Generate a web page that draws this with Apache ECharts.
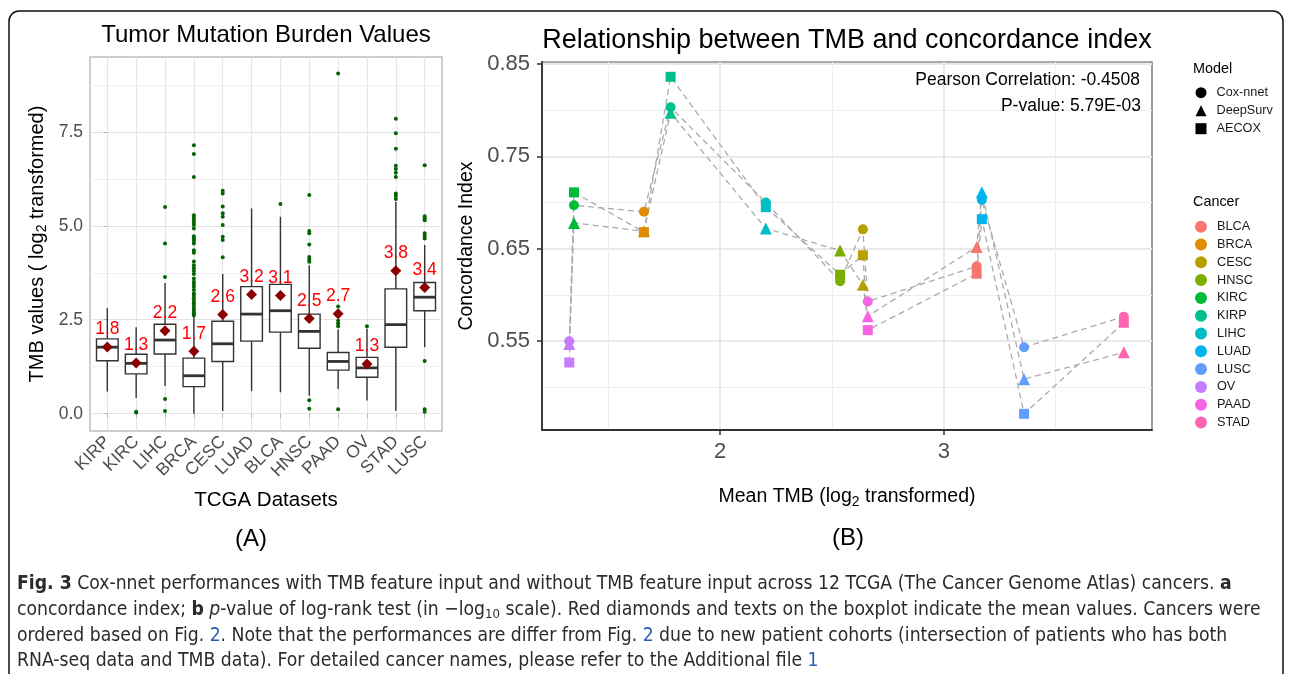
<!DOCTYPE html>
<html>
<head>
<meta charset="utf-8">
<script src="https://cdn.jsdelivr.net/npm/echarts@6/dist/echarts.min.js"></script>
<style>
html, body { margin: 0; padding: 0; background: #fff; }
#main { width: 1292px; height: 674px; }
</style>
</head>
<body>
<div id="main"></div>
<script>
// ---------- panel A : TMB boxplots (order as in the figure) ----------
var cats    = ['KIRP','KIRC','LIHC','BRCA','CESC','LUAD','BLCA','HNSC','PAAD','OV','STAD','LUSC'];
var boxMin  = [0.59, 0.42, 0.74, 0.00, 0.07, 0.60, 0.57, 0.48, 0.66, 0.35, 0.08, 1.77];
var boxQ1   = [1.41, 1.06, 1.59, 0.72, 1.39, 1.93, 2.17, 1.74, 1.16, 0.97, 1.77, 2.74];
var boxMed  = [1.77, 1.34, 1.96, 1.01, 1.86, 2.65, 2.74, 2.19, 1.39, 1.22, 2.37, 3.10];
var boxQ3   = [1.99, 1.58, 2.38, 1.48, 2.46, 3.38, 3.44, 2.65, 1.63, 1.50, 3.32, 3.49];
var boxMax  = [2.81, 2.30, 3.48, 2.60, 3.72, 5.46, 5.24, 3.95, 2.24, 2.26, 5.64, 4.49];
var meanTmb = [1.778, 1.346, 2.204, 1.659, 2.638, 3.170, 3.147, 2.536, 2.660, 1.325, 3.805, 3.359];
var outliers = [
  [],
  [0.05, 0.03],
  [0.39, 0.07, 3.64, 4.53, 5.50],
  [2.62, 2.67, 2.74, 2.80, 2.87, 2.94, 3.00, 3.07, 3.14, 3.20, 3.29, 3.38, 3.45, 3.51, 3.60,
   3.72, 3.80, 3.87, 3.95, 4.05, 4.28, 4.35, 4.53, 4.60, 4.66, 4.72, 4.93, 5.02, 5.08, 5.15,
   5.22, 5.28, 6.30, 6.91, 7.14],
  [4.16, 4.62, 4.71, 5.02, 5.24, 5.33, 5.51, 5.86, 5.93],
  [],
  [5.58],
  [0.36, 0.13, 4.04, 4.10, 4.17, 4.50, 4.80, 4.86, 5.82],
  [0.12, 2.33, 2.40, 2.47, 2.85, 9.05],
  [2.33],
  [5.71, 5.79, 5.86, 6.30, 6.41, 6.51, 6.60, 7.05, 7.46, 7.85],
  [0.05, 0.12, 1.40, 4.66, 4.73, 4.80, 5.15, 5.20, 5.25, 6.61]
];
var tmbTicks = [0, 2.5, 5, 7.5];
var tmbMinor = [1.25, 3.75, 6.25, 8.75];

// ---------- panel B : concordance index vs mean TMB ----------
var cancers = ['BLCA','BRCA','CESC','HNSC','KIRC','KIRP','LIHC','LUAD','LUSC','OV','PAAD','STAD'];
var cancerColors = ['#F8766D','#DE8C00','#B79F00','#7CAE00','#00BA38','#00C08B',
                    '#00BFC4','#00B4F0','#619CFF','#C77CFF','#F564E3','#FF64B0'];
var models = ['Cox-nnet', 'DeepSurv', 'AECOX'];
var modelShapes = ['circle', 'triangle', 'rect'];
var modelSizes = [10, 12, 10];
var cindexCoxnnet  = [0.631, 0.690, 0.671, 0.615, 0.697, 0.803, 0.700, 0.703, 0.5435, 0.550, 0.593, 0.5766];
var cindexDeepsurv = [0.652, 0.669, 0.611, 0.648, 0.678, 0.797, 0.672, 0.711, 0.509, 0.547, 0.577, 0.538];
var cindexAecox    = [0.623, 0.668, 0.643, 0.622, 0.711, 0.836, 0.695, 0.682, 0.4715, 0.527, 0.562, 0.570];
var cindexTicks = [0.55, 0.65, 0.75, 0.85];
var cindexMinor = [0.5, 0.6, 0.7, 0.8];
var tmbMeanTicks = [2, 3];
var tmbMeanMinor = [1.5, 2.5, 3.5];

var FONT = '"Liberation Sans", Arial, Helvetica, sans-serif';
var CAPFONT = '"DejaVu Sans Condensed", "Liberation Sans Narrow", sans-serif';

var capLines = [
  '{b|Fig. 3}{t| Cox-nnet performances with TMB feature input and without TMB feature input across 12 TCGA (The Cancer Genome Atlas) cancers. }{b|a}',
  '{t|concordance index; }{b|b}{t| }{i|p}{t|-value of log-rank test (in \u2212log}{s|10}{t| scale). Red diamonds and texts on the boxplot indicate the mean values. Cancers were}',
  '{t|ordered based on Fig. }{l|2}{t|. Note that the performances are differ from Fig. }{l|2}{t| due to new patient cohorts (intersection of patients who has both}',
  '{t|RNA-seq data and TMB data). For detailed cancer names, please refer to the Additional file }{l|1}'
];

// size the caption font so that the widest line ends near x = 1272
var capSize = (function () {
  var ctx = document.createElement('canvas').getContext('2d');
  ctx.font = '20px ' + CAPFONT;
  var widest = 0;
  capLines.forEach(function (l) {
    var plain = l.replace(/\{[a-z]\|/g, '').replace(/\}/g, '');
    widest = Math.max(widest, ctx.measureText(plain).width);
  });
  return Math.min(21, Math.max(14, 20 * 1250 / widest));
})();

var myChart = echarts.init(document.getElementById('main'), null, {renderer: 'canvas'});

// box data [x, min, q1, median, q3, max]
var boxData = cats.map(function (c, i) {
  return [i, boxMin[i], boxQ1[i], boxMed[i], boxQ3[i], boxMax[i]];
});
var outlierData = [];
outliers.forEach(function (list, i) {
  list.forEach(function (v) { outlierData.push([i, v]); });
});
var meanData = cats.map(function (c, i) { return [i, meanTmb[i]]; });

function renderBox(params, api) {
  var x = api.value(0);
  var lo = api.coord([x, api.value(1)]);
  var q1 = api.coord([x, api.value(2)]);
  var md = api.coord([x, api.value(3)]);
  var q3 = api.coord([x, api.value(4)]);
  var hi = api.coord([x, api.value(5)]);
  var half = api.size([0.75, 0])[0] / 2;
  function ln(w) { return {stroke: '#333', lineWidth: w, fill: null}; }
  return {
    type: 'group',
    children: [
      {type: 'line', shape: {x1: hi[0], y1: hi[1], x2: q3[0], y2: q3[1]}, style: ln(1.4)},
      {type: 'line', shape: {x1: q1[0], y1: q1[1], x2: lo[0], y2: lo[1]}, style: ln(1.4)},
      {type: 'rect', shape: {x: q3[0] - half, y: q3[1], width: half * 2, height: q1[1] - q3[1]},
       style: {fill: '#fff', stroke: '#333', lineWidth: 1.4}},
      {type: 'line', shape: {x1: md[0] - half, y1: md[1], x2: md[0] + half, y2: md[1]}, style: ln(2.8)}
    ]
  };
}

// model series (points per cancer, coloured by cancer)
var cindexByModel = [cindexCoxnnet, cindexDeepsurv, cindexAecox];
function tmbOf(c) { return meanTmb[cats.indexOf(c)]; }

var seriesB = [];
models.forEach(function (m, k) {
  var pts = cancers.map(function (c, j) {
    return {value: [tmbOf(c), cindexByModel[k][j]], itemStyle: {color: cancerColors[j], opacity: 1}};
  });
  var sorted = pts.map(function (p) { return p.value; }).slice().sort(function (a, b) { return a[0] - b[0]; });
  seriesB.push({
    name: m + ' line', type: 'line', xAxisIndex: 1, yAxisIndex: 2,
    data: sorted, symbol: 'none', z: 2, silent: true,
    lineStyle: {color: '#ABABAB', width: 1.3, type: [6, 4]}
  });
  seriesB.push({
    name: m, type: 'scatter', xAxisIndex: 1, yAxisIndex: 2, z: 3,
    symbol: modelShapes[k], symbolSize: modelSizes[k], itemStyle: {opacity: 1}, data: pts
  });
});
cancers.forEach(function (c, j) {
  seriesB.push({name: c, type: 'scatter', xAxisIndex: 1, yAxisIndex: 2, data: [],
                itemStyle: {color: cancerColors[j], opacity: 1}});
});

function gridLine(color, w) { return {show: true, lineStyle: {color: color, width: w}}; }
function hiddenAxis(extra) {
  var a = {axisLine: {show: false}, axisTick: {show: false}, axisLabel: {show: false}};
  for (var k in extra) a[k] = extra[k];
  return a;
}
function text(x, y, str, size, extra) {
  var st = {text: str, font: size + 'px ' + FONT, fill: '#000', align: 'center', verticalAlign: 'middle'};
  var el = {type: 'text', x: x, y: y, z: 50, silent: true, style: st};
  if (extra) { for (var k in extra) { if (k === 'style') { for (var s in extra.style) st[s] = extra.style[s]; } else el[k] = extra[k]; } }
  return el;
}
var subRich = function (size, sub) {
  return {
    n: {fontSize: size, fontFamily: FONT, fill: '#000', lineHeight: size + 4},
    s: {fontSize: sub, fontFamily: FONT, fill: '#000', lineHeight: sub, verticalAlign: 'bottom'}
  };
};
var capRich = {
  t: {fontSize: capSize, fontFamily: CAPFONT, fill: '#2B2B2B', lineHeight: capSize + 4},
  b: {fontSize: capSize, fontFamily: CAPFONT, fill: '#2B2B2B', fontWeight: 'bold', lineHeight: capSize + 4},
  i: {fontSize: capSize, fontFamily: CAPFONT, fill: '#2B2B2B', fontStyle: 'italic', lineHeight: capSize + 4},
  s: {fontSize: capSize * 0.68, fontFamily: CAPFONT, fill: '#2B2B2B', lineHeight: capSize * 0.68, verticalAlign: 'bottom'},
  l: {fontSize: capSize, fontFamily: CAPFONT, fill: '#2A5DB0', lineHeight: capSize + 4}
};
function capLine(y, str) {
  return {type: 'text', x: 17, y: y, z: 50, silent: true,
          style: {text: str, rich: capRich, align: 'left', verticalAlign: 'middle'}};
}

var option = {
  animation: false,
  backgroundColor: '#fff',
  grid: [
    {left: 90, top: 57, width: 352, height: 374, show: true, borderColor: '#BDBDBD', borderWidth: 1.5},
    {left: 542, top: 62, width: 610, height: 368, show: true, borderColor: '#555', borderWidth: 1.2}
  ],
  xAxis: [
    {type: 'value', gridIndex: 0, min: -0.6, max: 11.6,
     axisLine: {show: false},
     axisTick: {show: true, customValues: cats.map(function (c, i) { return i; }), length: 4,
                lineStyle: {color: '#B3B3B3'}},
     axisLabel: {customValues: cats.map(function (c, i) { return i; }), rotate: 45, margin: 8,
                 formatter: function (v) { return cats[Math.round(v)]; },
                 fontSize: 17.5, fontFamily: FONT, color: '#4D4D4D'},
     splitLine: gridLine('#E6E6E6', 1.2)},
    {type: 'value', gridIndex: 1, min: 1.203, max: 3.931,
     axisLine: {show: true, onZero: false, lineStyle: {color: '#333', width: 1.8}},
     axisTick: {show: true, customValues: tmbMeanTicks, length: 5, lineStyle: {color: '#333', width: 1.5}},
     axisLabel: {customValues: tmbMeanTicks, margin: 11, fontSize: 22, fontFamily: FONT, color: '#4D4D4D'},
     splitLine: gridLine('#E8E8E8', 1.8)},
    hiddenAxis({type: 'value', gridIndex: 1, min: 1.203, max: 3.931, position: 'bottom',
                axisTick: {show: false, customValues: tmbMeanMinor},
                splitLine: gridLine('#EEEEEE', 1)})
  ],
  yAxis: [
    {type: 'value', gridIndex: 0, min: -0.46, max: 9.49,
     axisLine: {show: false},
     axisTick: {show: true, customValues: tmbTicks, length: 4, lineStyle: {color: '#B3B3B3'}},
     axisLabel: {customValues: tmbTicks, margin: 7, fontSize: 17.5, fontFamily: FONT, color: '#4D4D4D',
                 formatter: function (v) { return v.toFixed(1); }},
     splitLine: gridLine('#E3E3E3', 1.2)},
    hiddenAxis({type: 'value', gridIndex: 0, min: -0.46, max: 9.49,
                axisTick: {show: false, customValues: tmbMinor},
                splitLine: gridLine('#F0F0F0', 1)}),
    {type: 'value', gridIndex: 1, min: 0.454, max: 0.852,
     axisLine: {show: true, onZero: false, lineStyle: {color: '#333', width: 1.8}},
     axisTick: {show: true, customValues: cindexTicks, length: 5, lineStyle: {color: '#333', width: 1.5}},
     axisLabel: {customValues: cindexTicks, margin: 12, fontSize: 22, fontFamily: FONT, color: '#4D4D4D',
                 formatter: function (v) { return v.toFixed(2); }},
     splitLine: gridLine('#E8E8E8', 1.8)},
    hiddenAxis({type: 'value', gridIndex: 1, min: 0.454, max: 0.852,
                axisTick: {show: false, customValues: cindexMinor},
                splitLine: gridLine('#EEEEEE', 1)})
  ],
  legend: [
    {orient: 'vertical', left: 1195.5, top: 86.2, padding: 0, itemWidth: 11, itemHeight: 11, itemGap: 5,
     selectedMode: false, itemStyle: {color: '#000'},
     textStyle: {fontSize: 12.7, fontFamily: FONT, color: '#1A1A1A', padding: [0, 0, 0, 5]},
     data: models.map(function (m, k) { return {name: m, icon: modelShapes[k], itemStyle: {color: '#000'}}; })},
    {orient: 'vertical', left: 1195, top: 220.2, padding: 0, itemWidth: 12, itemHeight: 12, itemGap: 4.8,
     selectedMode: false,
     textStyle: {fontSize: 12.7, fontFamily: FONT, color: '#1A1A1A', padding: [0, 0, 0, 5]},
     data: cancers.map(function (c) { return {name: c, icon: 'circle'}; })}
  ],
  series: [
    {name: 'boxes', type: 'custom', xAxisIndex: 0, yAxisIndex: 0, z: 2, silent: true,
     renderItem: renderBox, encode: {x: 0, y: [1, 2, 3, 4, 5]}, data: boxData},
    {name: 'outliers', type: 'scatter', xAxisIndex: 0, yAxisIndex: 0, z: 3, silent: true,
     symbolSize: 4, itemStyle: {color: '#006400', opacity: 1}, data: outlierData},
    {name: 'mean', type: 'scatter', xAxisIndex: 0, yAxisIndex: 0, z: 4, silent: true,
     symbol: 'diamond', symbolSize: 11, itemStyle: {color: '#8B0000', opacity: 1}, data: meanData,
     label: {show: true, position: 'top', distance: 3, color: '#FF0000', fontSize: 17.5, fontFamily: FONT,
             formatter: function (p) { return p.value[1].toFixed(1); }}}
  ].concat(seriesB),
  graphic: {elements: [
    {type: 'rect', silent: true, z: -10, shape: {x: 9, y: 11, width: 1274, height: 700, r: 10},
     style: {fill: 'none', stroke: '#111', lineWidth: 1.5}},
    text(266, 35, 'Tumor Mutation Burden Values', 24),
    text(847, 41, 'Relationship between TMB and concordance index', 27),
    {type: 'text', x: 37, y: 244, z: 50, rotation: Math.PI / 2, silent: true,
     style: {text: '{n|TMB values ( log}{s|2}{n| transformed)}', rich: subRich(20, 14), align: 'center', verticalAlign: 'middle'}},
    text(266, 500, 'TCGA Datasets', 20.5),
    text(251, 539, '(A)', 24),
    {type: 'text', x: 467, y: 246, z: 50, rotation: Math.PI / 2, silent: true,
     style: {text: 'Concordance Index', font: '19.5px ' + FONT, fill: '#000', align: 'center', verticalAlign: 'middle'}},
    {type: 'text', x: 847, y: 497, z: 50, silent: true,
     style: {text: '{n|Mean TMB (log}{s|2}{n| transformed)}', rich: subRich(19.5, 14), align: 'center', verticalAlign: 'middle'}},
    text(848, 538, '(B)', 24),
    text(1140, 80, 'Pearson Correlation: -0.4508', 17.5, {style: {align: 'right'}}),
    text(1141, 106, 'P-value: 5.79E-03', 17.5, {style: {align: 'right'}}),
    text(1193, 69, 'Model', 14.4, {style: {align: 'left'}}),
    text(1193, 202, 'Cancer', 14.4, {style: {align: 'left'}}),
    capLine(584, capLines[0]),
    capLine(610, capLines[1]),
    capLine(636, capLines[2]),
    capLine(661, capLines[3])
  ]}
};
myChart.setOption(option);
</script>
</body>
</html>
